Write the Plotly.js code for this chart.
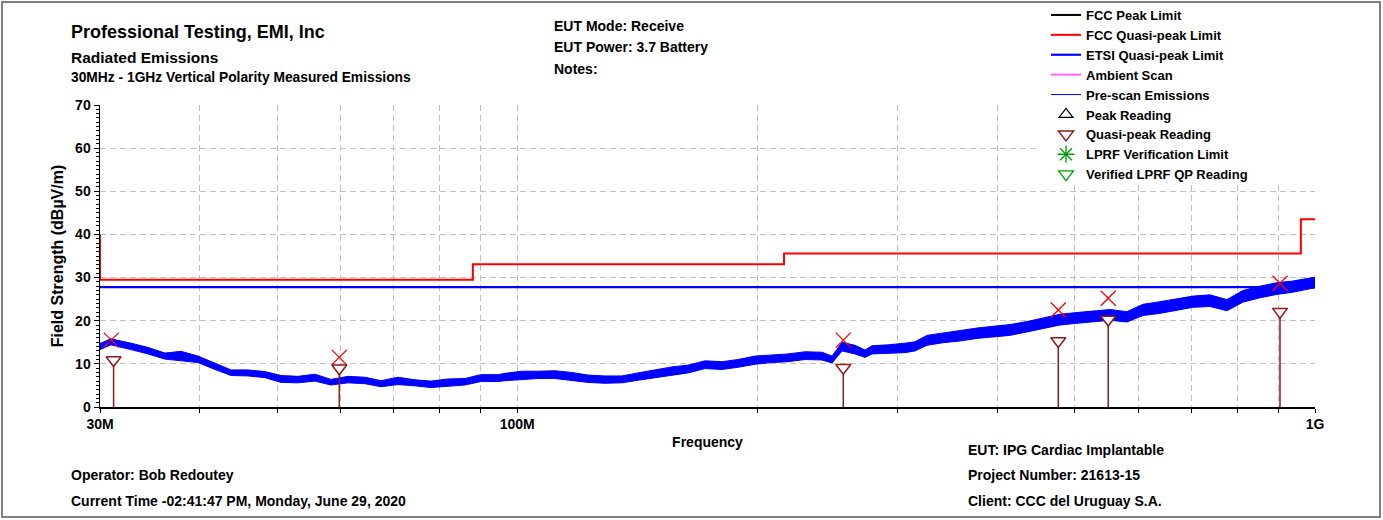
<!DOCTYPE html>
<html>
<head>
<meta charset="utf-8">
<script src="https://cdn.plot.ly/plotly-3.0.1.min.js"></script>
<style>html,body{margin:0;padding:0;background:#fff;}#chart{width:1383px;height:520px;}</style>
</head>
<body>
<div id="chart"></div>
<script>
// ---- Data (frequencies in MHz, levels in dBµV/m) ----
const scanFreq = [30.0, 30.96, 32.81, 34.46, 36.19, 37.90, 39.81, 41.81, 43.79, 45.99, 48.30, 50.59, 53.12, 55.79, 58.43, 61.37, 64.45, 67.50, 70.90, 74.46, 77.97, 81.89, 86.01, 90.07, 94.61, 96.54, 101.4, 106.2, 111.5, 117.1, 122.7, 128.8, 135.3, 141.7, 148.8, 156.3, 163.7, 172.0, 180.6, 189.1, 198.7, 208.7, 218.5, 229.5, 241.0, 248.1, 255.4, 265.1, 272.9, 278.5, 291.6, 306.3, 315.2, 326.3, 341.8, 359.0, 377.0, 394.8, 414.6, 435.5, 456.1, 479.0, 503.0, 526.8, 553.3, 581.1, 608.6, 639.1, 671.2, 702.9, 738.3, 775.4, 812.0, 852.8, 895.7, 938.0, 985.1, 1000];
const scanLo = [13.3, 14.4, 13.3, 12.3, 11.1, 10.7, 10.3, 8.7, 7.3, 7.2, 6.8, 5.7, 5.6, 6.0, 5.1, 5.6, 5.4, 4.7, 5.2, 4.9, 4.5, 4.8, 5.1, 5.9, 5.9, 6.1, 6.4, 6.6, 6.6, 6.2, 5.7, 5.5, 5.6, 6.2, 6.8, 7.4, 7.9, 8.9, 8.7, 9.2, 9.9, 10.3, 10.5, 11.0, 10.9, 10.2, 13.0, 12.3, 11.5, 12.3, 12.4, 12.6, 13.0, 14.3, 14.9, 15.3, 15.9, 16.3, 16.6, 17.4, 18.2, 19.0, 19.4, 19.7, 20.1, 19.7, 21.2, 21.7, 22.5, 23.1, 23.3, 22.3, 24.3, 25.3, 26.1, 26.6, 27.4, 27.6];
const scanHi = [14.7, 15.8, 14.8, 13.8, 12.5, 12.9, 11.8, 10.1, 8.6, 8.6, 8.2, 7.3, 7.1, 7.6, 6.4, 7.1, 6.9, 6.1, 6.9, 6.3, 6.0, 6.5, 6.6, 7.5, 7.5, 7.8, 8.3, 8.3, 8.4, 8.0, 7.4, 7.2, 7.2, 7.9, 8.6, 9.3, 9.7, 10.7, 10.5, 11.0, 11.8, 12.1, 12.3, 12.8, 12.7, 11.8, 15.0, 14.3, 13.2, 14.2, 14.4, 14.8, 15.1, 16.6, 17.2, 17.7, 18.3, 18.7, 19.1, 19.8, 20.7, 21.5, 21.9, 22.2, 22.6, 22.1, 23.8, 24.4, 25.1, 25.7, 26.0, 24.9, 27.0, 28.0, 28.8, 29.2, 29.9, 30.1];

const fccQpFreq = [30, 30, 88, 88, 216, 216, 960, 960, 1000];
const fccQpLevel = [40, 29.5, 29.5, 33.1, 33.1, 35.6, 35.6, 43.5, 43.5];
const etsiFreq = [30, 1000];
const etsiLevel = [27.8, 27.8];

const prescanPeakFreq = [30.99, 59.85, 256.3, 476.7, 550.6, 903.9];
const prescanPeakLevel = [15.5, 11.5, 15.5, 22.5, 25.2, 28.7];
const qpFreq = [31.2, 59.85, 256.3, 476.7, 550.6, 903.9];
const qpLevel = [10.9, 9.0, 9.1, 15.3, 20.3, 22.1];

// legend-only series have no readings inside the plotted 0..70 range
const offScaleFreq = [30];
const offScaleLevel = [-100];

const gridFreqs = [30, 40, 50, 60, 70, 80, 90, 100, 200, 300, 400, 500, 600, 700, 800, 900, 1000];
const gridLabels = ['30M', '', '', '', '', '', '', '100M', '', '', '', '', '', '', '', '', '1G'];

// ---- helpers: pixel -> paper coords (plot area 100..1315 x 105..407) ----
const W = 1383, H = 520;
const L = 100, R = 1315, T = 105, B = 407;
const px = p => (p - L) / (R - L);
const py = p => (B - p) / (B - T);

const FONT = 'Liberation Sans, Arial, Helvetica, sans-serif';
const DARKRED = '#8b1a1a';

// stems for QP readings
const stemX = [], stemY = [];
qpFreq.forEach((f, i) => { stemX.push(f, f, null); stemY.push(0, qpLevel[i], null); });

const traces = [
  {x: offScaleFreq, y: offScaleLevel, mode: 'lines', name: 'FCC Peak Limit', line: {color: 'black', width: 2}},
  {x: fccQpFreq, y: fccQpLevel, mode: 'lines', name: 'FCC Quasi-peak Limit', line: {color: '#ff0000', width: 2}},
  {x: etsiFreq, y: etsiLevel, mode: 'lines', name: 'ETSI Quasi-peak Limit', line: {color: '#0000ff', width: 2.2}},
  {x: offScaleFreq, y: offScaleLevel, mode: 'lines', name: 'Ambient Scan', line: {color: '#ff66ff', width: 2}},
  {x: scanFreq, y: scanLo, mode: 'lines', showlegend: false, line: {color: '#0000ff', width: 1}, hoverinfo: 'skip'},
  {x: scanFreq, y: scanHi, mode: 'lines', fill: 'tonexty', fillcolor: '#0000ff', showlegend: false, line: {color: '#0000ff', width: 1}, hoverinfo: 'skip'},
  {x: offScaleFreq, y: offScaleLevel, mode: 'lines', name: 'Pre-scan Emissions', line: {color: '#0000ff', width: 1}},
  {x: stemX, y: stemY, mode: 'lines', showlegend: false, line: {color: DARKRED, width: 1.5}},
  {x: prescanPeakFreq, y: prescanPeakLevel, mode: 'markers', showlegend: false, marker: {symbol: 'x-thin-open', size: 15, color: '#ff0000', line: {width: 1.3, color: '#ff0000'}}},
  {x: offScaleFreq, y: offScaleLevel, mode: 'markers', name: 'Peak Reading', marker: {symbol: 'triangle-up-open', size: 12, color: 'black', line: {width: 1.3}}},
  {x: qpFreq, y: qpLevel, mode: 'markers', name: 'Quasi-peak Reading', marker: {symbol: 'triangle-down', size: 13, color: 'white', line: {width: 1.5, color: DARKRED}}},
  {x: offScaleFreq, y: offScaleLevel, mode: 'markers', name: 'LPRF Verification Limit', marker: {symbol: 'asterisk-open', size: 14, color: '#00a000', line: {width: 1.3, color: '#00a000'}}},
  {x: offScaleFreq, y: offScaleLevel, mode: 'markers', name: 'Verified LPRF QP Reading', marker: {symbol: 'triangle-down-open', size: 13, color: '#00a000', line: {width: 1.3}}}
];

function ann(text, x, y, size) {
  return {text: text, xref: 'paper', yref: 'paper', x: px(x), y: py(y), xanchor: 'left', yanchor: 'middle',
          showarrow: false, font: {family: FONT, size: size, color: 'black', weight: 'bold'}};
}

const layout = {
  width: W, height: H,
  margin: {l: L, r: W - R, t: T, b: H - B, pad: 0, autoexpand: false},
  paper_bgcolor: 'white', plot_bgcolor: 'white',
  font: {family: FONT, color: 'black'},
  showlegend: true,
  legend: {xref: 'container', yref: 'container', x: 1046 / W, y: 1 + 8 / H, xanchor: 'left', yanchor: 'top',
           traceorder: 'normal', bgcolor: 'rgba(0,0,0,0)', font: {family: FONT, size: 13, weight: 'bold', color: 'black'}, tracegroupgap: 0},
  xaxis: {type: 'log', range: [Math.log10(30), 3], tickvals: gridFreqs, ticktext: gridLabels,
          showgrid: true, gridcolor: '#c0c0c0', griddash: '6px,4px', gridwidth: 1,
          showline: true, linecolor: 'black', linewidth: 1.5, ticks: 'outside', ticklen: 4, tickcolor: 'black',
          tickfont: {family: FONT, size: 14, weight: 'bold'}, zeroline: false,
          title: {text: 'Frequency', font: {family: FONT, size: 14, weight: 'bold'}, standoff: 6}},
  yaxis: {range: [0, 70], dtick: 10, showgrid: true, gridcolor: '#c0c0c0', griddash: '6px,4px', gridwidth: 1,
          showline: true, linecolor: 'black', linewidth: 1.5, ticks: 'outside', ticklen: 5, tickcolor: 'black',
          minor: {dtick: 1, ticks: 'outside', ticklen: 3, tickcolor: 'black', showgrid: false},
          tickfont: {family: FONT, size: 14, weight: 'bold'}, zeroline: false,
          title: {text: 'Field Strength (dBµV/m)', font: {family: FONT, size: 16, weight: 'bold'}, standoff: 7}},
  annotations: [
    ann('Professional Testing, EMI, Inc', 69, 32, 18),
    ann('Radiated Emissions', 69, 57, 15.5),
    ann('30MHz - 1GHz Vertical Polarity Measured Emissions', 69, 77, 13.8),
    ann('EUT Mode: Receive', 552, 26, 14),
    ann('EUT Power: 3.7 Battery', 552, 47, 14),
    ann('Notes:', 552, 69, 14),
    ann('EUT: IPG Cardiac Implantable', 966, 450, 14),
    ann('Project Number: 21613-15', 966, 475, 14),
    ann('Client: CCC del Uruguay S.A.', 966, 501, 14),
    ann('Operator: Bob Redoutey', 69, 475, 14),
    ann('Current Time -02:41:47 PM, Monday, June 29, 2020', 69, 501, 14)
  ],
  shapes: [
    {type: 'rect', xref: 'paper', yref: 'paper', x0: px(2), x1: px(1380), y0: py(2), y1: py(517),
     line: {color: '#808080', width: 2}, fillcolor: 'rgba(0,0,0,0)', layer: 'below'},
    // white backing behind the legend block (hides the grid there, as in the original)
    {type: 'rect', xref: 'paper', yref: 'paper', x0: px(1038), x1: px(1316), y0: py(104), y1: py(184),
     line: {width: 0}, fillcolor: 'white', layer: 'above'}
  ]
};

Plotly.newPlot('chart', traces, layout, {staticPlot: true, displayModeBar: false});
</script>
</body>
</html>
